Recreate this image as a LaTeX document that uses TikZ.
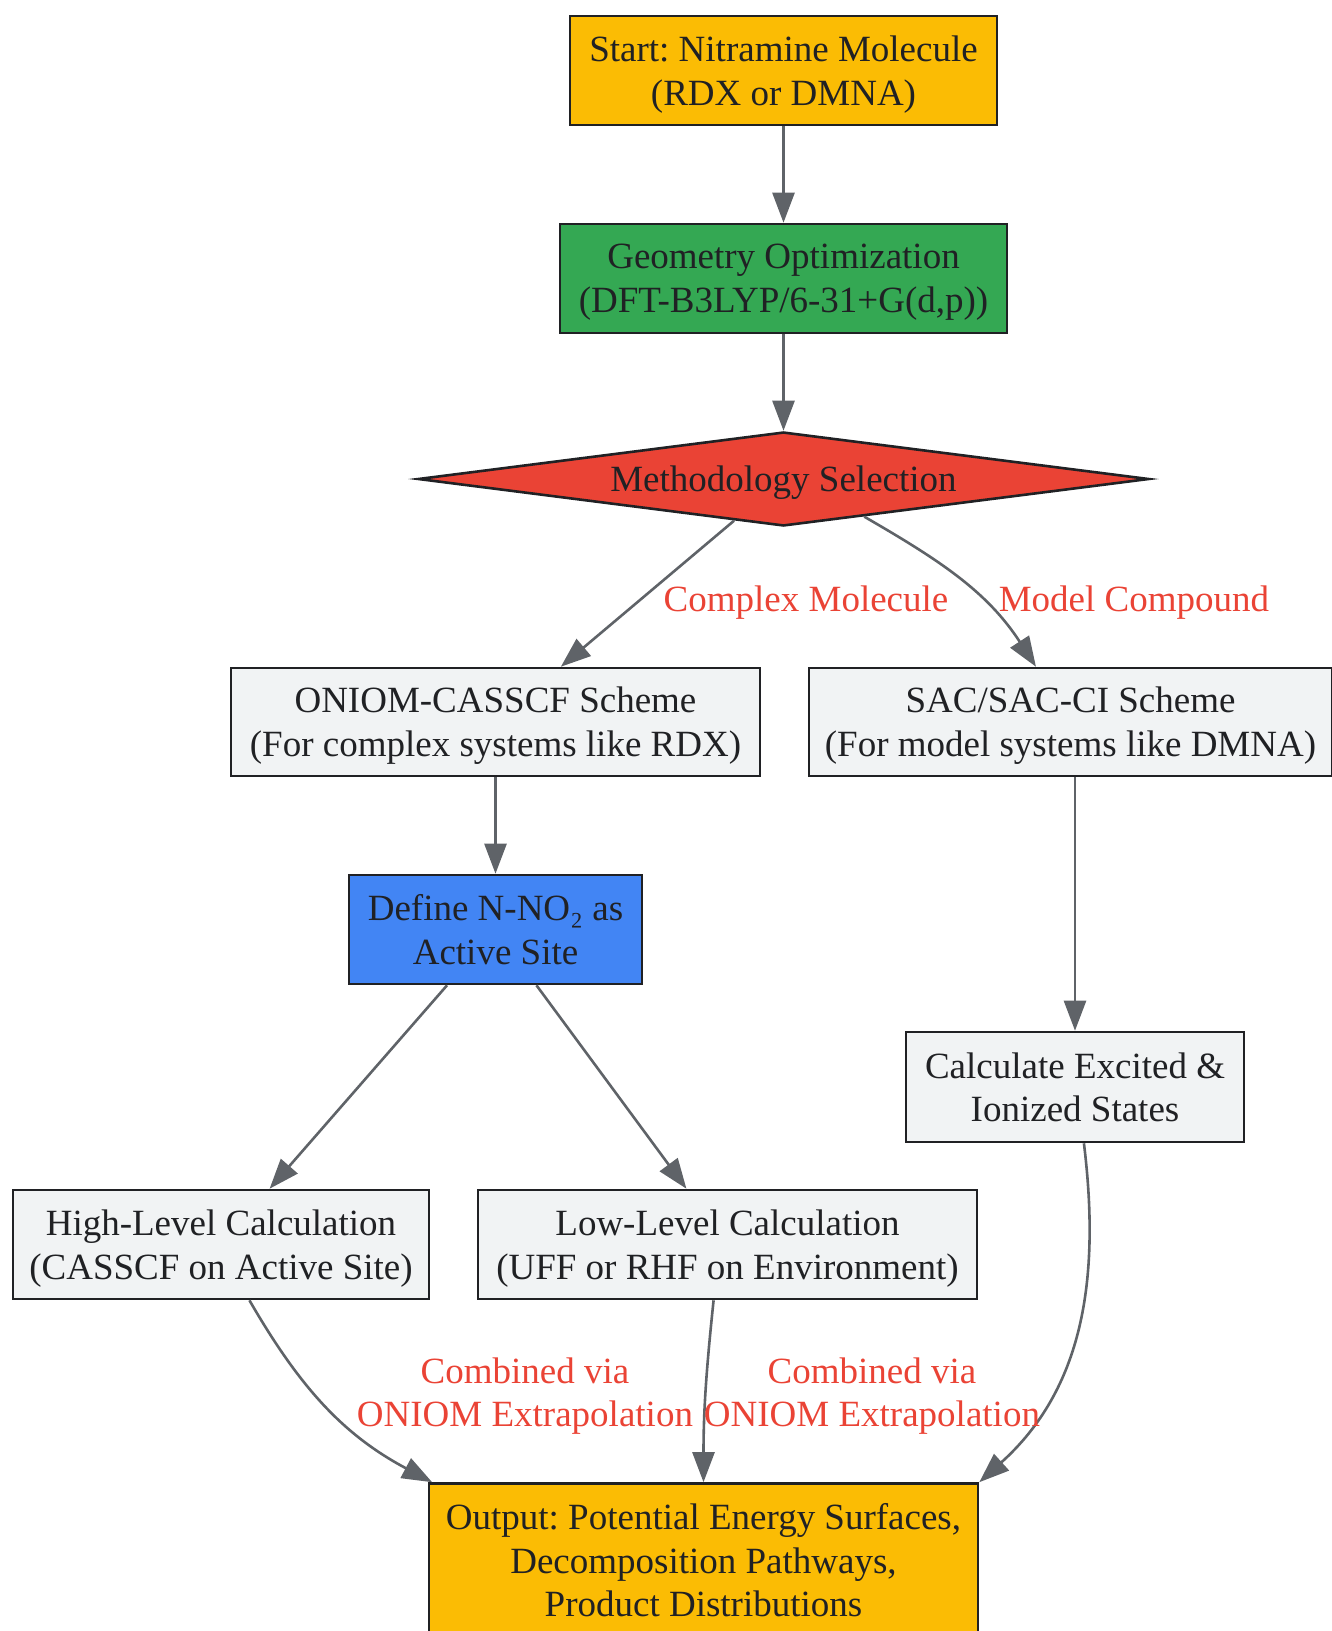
\documentclass[tikz,border=0pt]{standalone}
\usepackage{fontspec}
\setmainfont{Liberation Serif}
\frenchspacing
\usetikzlibrary{shapes.geometric,arrows.meta,calc}
\definecolor{gyellow}{HTML}{FBBC04}
\definecolor{ggreen}{HTML}{34A853}
\definecolor{gred}{HTML}{EA4335}
\definecolor{gblue}{HTML}{4285F4}
\definecolor{ggray}{HTML}{F1F3F4}
\definecolor{gborder}{HTML}{202124}
\definecolor{gedge}{HTML}{5F6368}
\definecolor{gtext}{HTML}{202124}
\tikzset{
  x=1pt, y=-1pt,
  mytext/.style={font=\fontsize{37}{43.7}\selectfont, text=gtext, align=center, text depth=0pt},
  box/.style={mytext, draw=gborder, line width=2.6pt, rectangle, inner sep=0pt},
  elabel/.style={font=\fontsize{37}{43.7}\selectfont, text=gred, align=center, inner sep=0pt, text depth=0pt},
  conn/.style={draw=gedge, line width=2.6pt, -{Triangle[length=30pt,width=22pt]}},
}
\begin{document}
\begin{tikzpicture}
\useasboundingbox (0,0) rectangle (1332,1631);
\node[box, fill=gyellow, minimum width=427pt, minimum height=109pt] (start) at (783.5,70.5) {Start: Nitramine Molecule\\(RDX or DMNA)};
\node[box, fill=ggreen, minimum width=447pt, minimum height=109pt] (geom) at (783.5,278.5) {Geometry Optimization\\(DFT-B3LYP/6-31+G(d,p))};
\node[mytext, shape=diamond, aspect=7.7, draw=gborder, line width=2.6pt, fill=gred, inner sep=0pt, minimum width=731pt, minimum height=94pt] (sel) at (783.5,479) {Methodology Selection};
\node[box, fill=ggray, minimum width=529pt, minimum height=108pt] (oniom) at (495.5,722) {ONIOM-CASSCF Scheme\\(For complex systems like RDX)};
\node[box, fill=ggray, minimum width=523pt, minimum height=108pt] (sac) at (1070.5,722) {SAC/SAC-CI Scheme\\(For model systems like DMNA)};
\node[box, fill=gblue, minimum width=293pt, minimum height=109pt] (define) at (495.5,929.5) {Define N-NO₂ as\\Active Site};
\node[box, fill=ggray, minimum width=338pt, minimum height=110pt] (calc) at (1075,1087) {Calculate Excited \&\\Ionized States};
\node[box, fill=ggray, minimum width=416pt, minimum height=109pt] (high) at (221,1244.5) {High-Level Calculation\\(CASSCF on Active Site)};
\node[box, fill=ggray, minimum width=499pt, minimum height=109pt] (low) at (727.5,1244.5) {Low-Level Calculation\\(UFF or RHF on Environment)};
\node[box, fill=gyellow, minimum width=549pt, minimum height=153pt] (out) at (703.5,1560) {Output: Potential Energy Surfaces,\\Decomposition Pathways,\\Product Distributions};

\draw[conn] (start.south) -- (geom.north);
\draw[conn] (geom.south) -- (sel.north);
\draw[conn] (sel) -- (oniom);
\draw[conn] (sel.-25) to[out=-30,in=123] (sac.122);
\draw[conn] (oniom.south) -- (define.north);
\draw[conn] (calc.north |- sac.south) -- (calc.north);
\draw[conn] (define) -- (high);
\draw[conn] (define) -- (low);
\draw[conn] (high.-63) to[out=-60,in=152] (out.164);
\draw[conn] (low.-104) to[out=-96,in=90] (out.north);
\draw[conn] (calc.-81) to[out=-83,in=42] (out.north east);

\node[elabel] (lc) at (806,599) {Complex Molecule};
\node[elabel] (lm) at (1134,599) {Model Compound};
\node[elabel] (l1) at (525,1392) {Combined via\\ONIOM Extrapolation};
\node[elabel] (l2) at (872,1392) {Combined via\\ONIOM Extrapolation};
\end{tikzpicture}
\end{document}
